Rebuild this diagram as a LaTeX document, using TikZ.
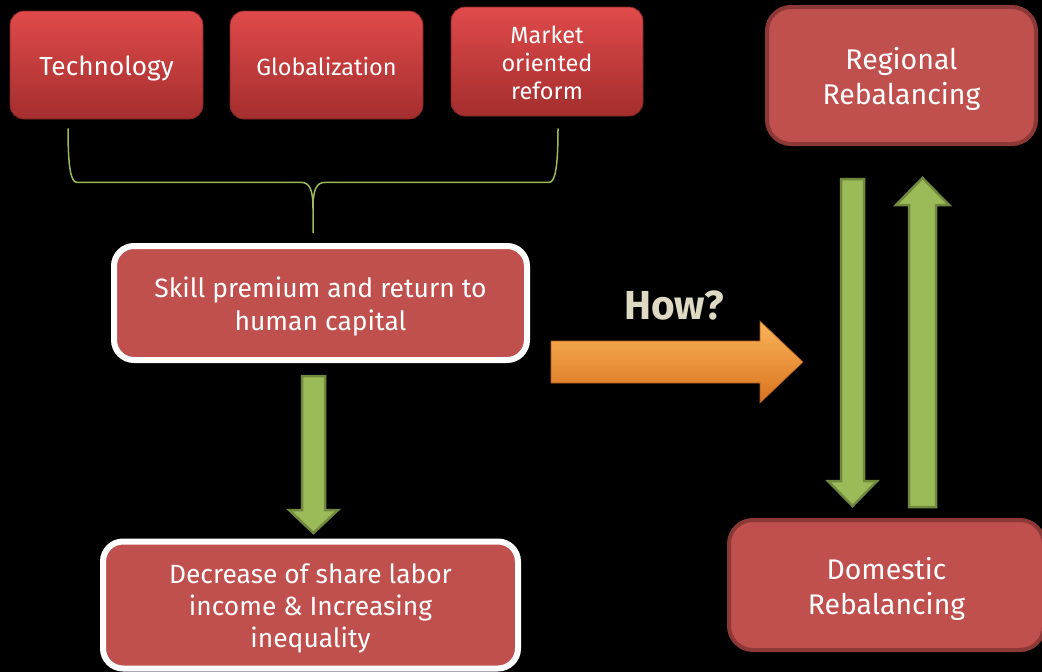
\documentclass[tikz,border=0pt]{standalone}
\usepackage{fontspec}
\setmainfont{Fira Sans}
\usetikzlibrary{calc}
\definecolor{boxred}{HTML}{C0504D}
\definecolor{boxedge}{HTML}{8C3836}
\definecolor{topred}{HTML}{E04A4A}
\definecolor{botred}{HTML}{A42E2E}
\definecolor{lgreen}{HTML}{9BBB59}
\definecolor{dgreen}{HTML}{71893F}
\definecolor{howc}{HTML}{DDD9C3}
\definecolor{orTop}{HTML}{FBB55A}
\definecolor{orMid}{HTML}{F79646}
\definecolor{orBot}{HTML}{D8721E}
\newcommand\btext[2][4.5pt]{\raisebox{-#1}[\height][\depth]{\begin{tabular}{@{}c@{}}#2\end{tabular}}}
\begin{document}
\begin{tikzpicture}[x=1pt,y=-1pt,
 topbox/.style={rounded corners=14, top color=topred, bottom color=botred, draw=botred!80!black, line width=0.8, text=white, inner sep=0},
 midbox/.style={rounded corners=20, fill=boxred, draw=white, line width=6, text=white, inner sep=0},
 sidebox/.style={rounded corners=24, fill=boxred, draw=boxedge, line width=4, text=white, inner sep=0},
 brace/.style={draw=lgreen, line width=1.5},
 fat/.style={fill=lgreen, draw=dgreen, line width=2.5, line join=miter},
 orangearrow/.style={top color=orTop, middle color=orMid, bottom color=orBot, draw=orBot!80!black, line width=0.6}
]
\fill[black] (0,0) rectangle (1042,672);
\useasboundingbox (0,0) rectangle (1042,672);

\node[topbox, minimum width=193, minimum height=108, font=\fontsize{26.2}{30}\selectfont] (tech) at (106.5,65) {\btext{Technology}};
\node[topbox, minimum width=193, minimum height=108, font=\fontsize{23.5}{30}\selectfont] (glob) at (326.5,65) {\btext{Globalization}};
\node[topbox, minimum width=192, minimum height=109, font=\fontsize{23.5}{28.3}\selectfont] (mkt) at (547,61.5) {\btext{Market\\oriented\\reform}};
\node[sidebox, minimum width=269, minimum height=137, font=\fontsize{28.5}{34.5}\selectfont] (reg) at (901.5,75.5) {\btext{Regional\\Rebalancing}};
\node[midbox, minimum width=413, minimum height=114, font=\fontsize{26.5}{33}\selectfont] (skill) at (320.5,303) {\btext[4pt]{Skill premium and return to\\human capital}};
\node[midbox, minimum width=415, minimum height=127, font=\fontsize{26.4}{32}\selectfont] (dec) at (310.5,605) {\btext[4pt]{Decrease of share labor\\income \& Increasing\\inequality}};
\node[sidebox, minimum width=315, minimum height=130, font=\fontsize{28.4}{35}\selectfont] (dom) at (886.5,585) {\btext[5pt]{Domestic\\Rebalancing}};

\node[text=howc, font=\bfseries\fontsize{40.5}{40}\selectfont] (how) at (674,305) {How?};

% brace
\coordinate (bL) at ($(tech.south)+(-38.5,9)$);
\coordinate (bR) at ($(mkt.south)+(11,12)$);
\coordinate (bB) at ($(skill.north)+(-7.5,-10)$);
\draw[brace] let \p1=(bL), \p2=(bR), \p3=(bB) in
  (\p1) .. controls ({\x1},{\y1-40}) and ({\x1+3},{\y1-54}) .. ({\x1+9},{\y1-54})
  -- ({\x3-12},{\y1-54}) .. controls ({\x3-3},{\y1-54}) and ({\x3},{\y1-62}) .. ({\x3},{\y1-80}) -- (\p3)
  (\p2) .. controls ({\x2},{\y1-40}) and ({\x2-3},{\y1-54}) .. ({\x2-9},{\y1-54})
  -- ({\x3+12},{\y1-54}) .. controls ({\x3+3},{\y1-54}) and ({\x3},{\y1-62}) .. ({\x3},{\y1-80});

% green arrow skill -> decrease
\coordinate (dS1) at ($(skill.south)+(-7,13)$);
\coordinate (dE1) at ($(dec.north)+(3,-5.5)$);
\draw[fat] let \p1=(dS1), \p2=(dE1) in
  ({\x1-11.5},\y1) -- ({\x1+11.5},\y1) -- ({\x1+11.5},{\y2+23}) -- ({\x1+24.5},{\y2+23})
  -- (\x1,\y2) -- ({\x1-24.5},{\y2+23}) -- ({\x1-11.5},{\y2+23}) -- cycle;

% regional -> domestic
\coordinate (dS2) at ($(reg.south)+(-49,33)$);
\coordinate (dE2) at ($(dom.north)+(-34,-12)$);
\draw[fat] let \p1=(dS2), \p2=(dE2) in
  ({\x1-11.5},\y1) -- ({\x1+11.5},\y1) -- ({\x1+11.5},{\y2+25}) -- ({\x1+24.5},{\y2+25})
  -- (\x1,\y2) -- ({\x1-24.5},{\y2+25}) -- ({\x1-11.5},{\y2+25}) -- cycle;

% domestic -> regional
\coordinate (uS) at ($(dom.north)+(36,-11)$);
\coordinate (uE) at ($(reg.south)+(21,32)$);
\draw[fat] let \p1=(uS), \p2=(uE) in
  ({\x1-13.5},\y1) -- ({\x1+13.5},\y1) -- ({\x1+13.5},{\y2-27}) -- ({\x1+26.5},{\y2-27})
  -- (\x1,\y2) -- ({\x1-26.5},{\y2-27}) -- ({\x1-13.5},{\y2-27}) -- cycle;

% orange arrow
\coordinate (oS) at ($(skill.east)+(21,59)$);
\coordinate (oE) at (803,362);
\shade[orangearrow] let \p1=(oS), \p2=(oE) in
  (\x1,{\y1+21}) -- ({\x2-43},{\y1+21}) -- ({\x2-43},{\y1+41}) -- (\x2,\y1)
  -- ({\x2-43},{\y1-41}) -- ({\x2-43},{\y1-21}) -- (\x1,{\y1-21}) -- cycle;
\end{tikzpicture}
\end{document}
